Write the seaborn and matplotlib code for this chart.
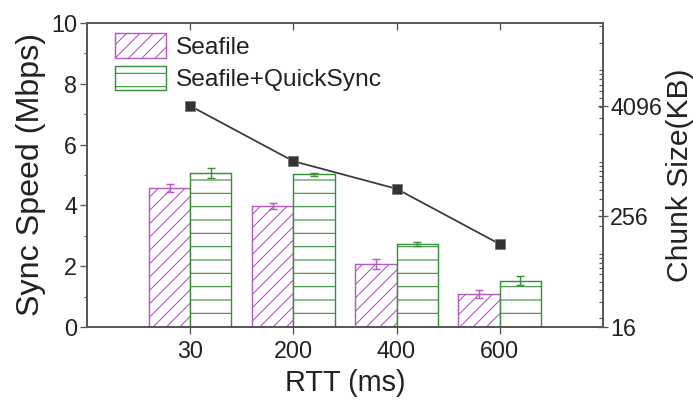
import numpy as np
import pandas as pd
import matplotlib
matplotlib.use("Agg")
import matplotlib.pyplot as plt
from matplotlib.ticker import FixedLocator, FixedFormatter, NullFormatter, MultipleLocator
from matplotlib.patches import Patch
import seaborn as sns

# Data
rtt_labels = ["30", "200", "400", "600"]
seafile_speed = [4.57, 3.98, 2.07, 1.08]
seafile_err = [0.13, 0.10, 0.16, 0.13]
quicksync_speed = [5.07, 5.02, 2.73, 1.52]
quicksync_err = [0.16, 0.05, 0.05, 0.15]
chunk_size_kb = [4096, 1024, 512, 128]
series_names = ["Seafile", "Seafile+QuickSync"]
chunk_ticks = [16, 256, 4096]

purple = "#b45cbf"
green = "#3a8f3a"
line_grey = "#3a3a3a"
spine_grey = "#555555"
text_grey = "#222222"

sns.set_theme(style="white")
plt.rcParams["font.family"] = ["Liberation Sans", "DejaVu Sans"]
plt.rcParams["hatch.linewidth"] = 1.0

df = pd.DataFrame({
    "RTT": rtt_labels * 2,
    "speed": seafile_speed + quicksync_speed,
    "series": [series_names[0]] * 4 + [series_names[1]] * 4,
})

fig = plt.figure(figsize=(693 / 80, 403 / 80), dpi=80)
ax = fig.add_axes([0.1255, 0.1886, 0.870 - 0.1255, 0.943 - 0.1886])

sns.barplot(data=df, x="RTT", y="speed", hue="series", order=rtt_labels,
            hue_order=series_names, errorbar=None, width=0.8, ax=ax,
            palette=["white", "white"], legend=False)

# Style bars per series and attach error bars at the bar centres
hatches = ["//", "-"]
colors = [purple, green]
errs = [seafile_err, quicksync_err]
vals = [seafile_speed, quicksync_speed]
bar_containers = list(ax.containers)
for i, container in enumerate(bar_containers):
    xs = []
    for bar in container.patches:
        bar.set_facecolor("white")
        bar.set_edgecolor(colors[i])
        bar.set_hatch(hatches[i])
        bar.set_linewidth(1.3)
        xs.append(bar.get_x() + bar.get_width() / 2)
    ax.errorbar(xs, vals[i], yerr=errs[i], fmt="none", ecolor=colors[i],
                elinewidth=1.3, capsize=4, capthick=1.3, zorder=5)

ax.set_xlim(-1, 4)
ax.set_ylim(0, 10)
ax.yaxis.set_major_locator(MultipleLocator(2))
ax.yaxis.set_minor_locator(MultipleLocator(1))
ax.set_xlabel("RTT (ms)", fontsize=26, labelpad=5, color=text_grey)
ax.set_ylabel("Sync Speed (Mbps)", fontsize=29, labelpad=4, color=text_grey)
ax.tick_params(axis="both", labelsize=21, colors=text_grey)
ax.tick_params(axis="y", which="major", direction="out", length=6, width=1.2,
               color=spine_grey, left=True, pad=3)
ax.tick_params(axis="y", which="minor", direction="out", length=3, width=1.0,
               color=spine_grey, left=True)
ax.tick_params(axis="x", which="major", direction="out", length=6, width=1.2,
               color=spine_grey, bottom=True, top=False, pad=6)
for side in ["left", "right", "top", "bottom"]:
    ax.spines[side].set_color(spine_grey)
    ax.spines[side].set_linewidth(1.5)

# Inward tick marks along the top edge
top = ax.secondary_xaxis("top")
top.set_xticks(np.arange(len(rtt_labels)))
top.tick_params(axis="x", direction="in", length=6, width=1.2, color=spine_grey,
                labeltop=False)
top.spines["top"].set_visible(False)

# Chunk size on a log2 axis
ax2 = ax.twinx()
positions = np.arange(len(rtt_labels))
sns.lineplot(x=positions, y=chunk_size_kb, ax=ax2, color=line_grey,
             linewidth=1.6, marker="s", markersize=8.5, markerfacecolor="#333333",
             markeredgecolor="#777777", markeredgewidth=0.8, zorder=6)
ax2.set_yscale("log", base=2)
ax2.set_ylim(16, 2 ** 15)
ax2.yaxis.set_major_locator(FixedLocator(chunk_ticks))
ax2.yaxis.set_major_formatter(FixedFormatter([str(t) for t in chunk_ticks]))
minor = [m * 10 ** d for d in range(1, 5) for m in range(2, 10)
         if 16 < m * 10 ** d < 2 ** 15]
minor += [10 ** d for d in range(2, 5)]
ax2.yaxis.set_minor_locator(FixedLocator(minor))
ax2.yaxis.set_minor_formatter(NullFormatter())
ax2.tick_params(axis="y", which="major", direction="inout", length=9, width=1.2,
                color=spine_grey, labelsize=21, labelcolor=text_grey, pad=2)
ax2.tick_params(axis="y", which="minor", direction="in", length=4, width=1.0,
                color=spine_grey)
ax2.set_ylabel("Chunk Size(KB)", fontsize=27, labelpad=4, color=text_grey)
for side in ["left", "right", "top", "bottom"]:
    ax2.spines[side].set_color(spine_grey)
    ax2.spines[side].set_linewidth(1.5)
ax2.set_xlim(-1, 4)

# Legend with hatched swatches
handles = [Patch(facecolor="white", edgecolor=colors[i], hatch=hatches[i], linewidth=1.3)
           for i in range(2)]
ax.legend(handles, series_names, loc="upper left", bbox_to_anchor=(0.054, 0.966),
          frameon=False, fontsize=22, borderpad=0, borderaxespad=0,
          handlelength=2.1, handleheight=1.15, handletextpad=0.4, labelspacing=0.3,
          labelcolor=text_grey)

fig.savefig("out.png", dpi=80)
